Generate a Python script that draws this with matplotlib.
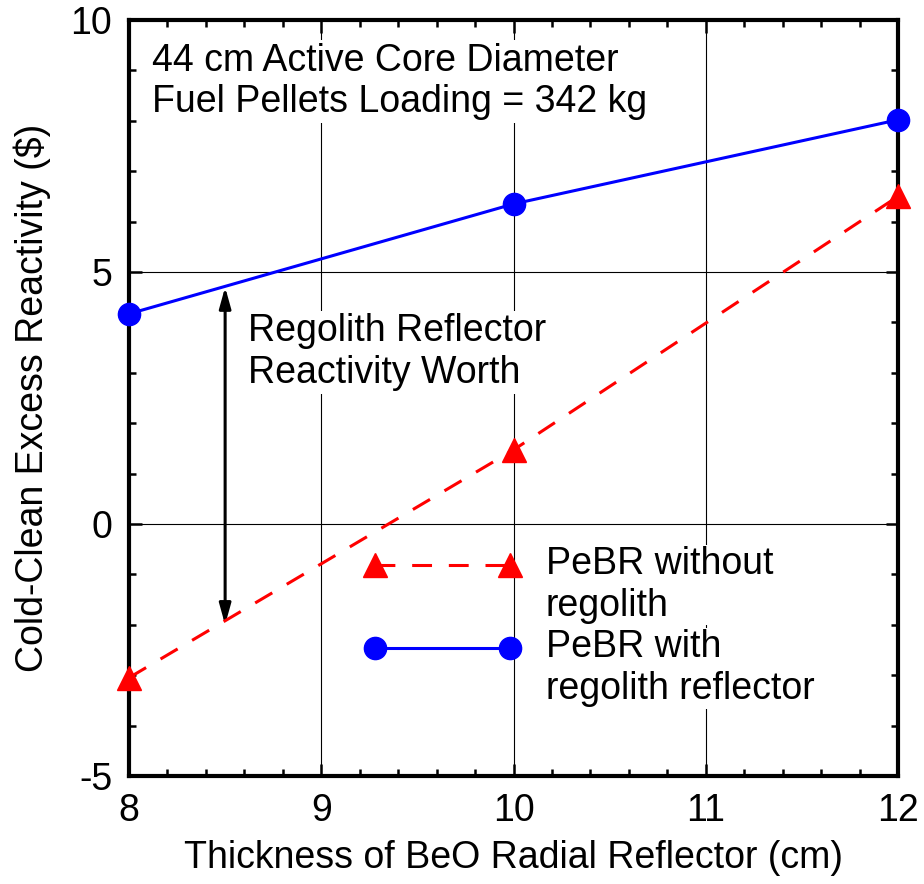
import numpy as np
import matplotlib
matplotlib.use("Agg")
import matplotlib.pyplot as plt
from matplotlib.legend_handler import HandlerLine2D
from matplotlib.ticker import MultipleLocator

# ---- data ----
thickness = [8, 10, 12]
without_regolith = [-3.05, 1.47, 6.5]
with_regolith = [4.17, 6.35, 8.02]
arrow_x = 8.5
arrow_bottom = -2.0
arrow_top = 4.7
xlabel = "Thickness of BeO Radial Reflector (cm)"
ylabel = "Cold-Clean Excess Reactivity ($)"
note_text = "44 cm Active Core Diameter\nFuel Pellets Loading = 342 kg"
worth_text = "Regolith Reflector\nReactivity Worth"
label_without = "PeBR without\nregolith"
label_with = "PeBR with\nregolith reflector"

FS = 27
plt.rcParams['font.family'] = ['Liberation Sans', 'DejaVu Sans']
plt.rcParams['font.size'] = FS

fig = plt.figure(figsize=(9.24, 8.84), dpi=100)
ax = fig.add_axes([129/924, 1-776/884, (898-129)/924, (776-20)/884])

ax.set_xlim(8, 12)
ax.set_ylim(-5, 10)
ax.xaxis.set_major_locator(MultipleLocator(1))
ax.xaxis.set_minor_locator(MultipleLocator(0.2))
ax.yaxis.set_major_locator(MultipleLocator(5))
ax.yaxis.set_minor_locator(MultipleLocator(1))
ax.grid(True, which='major', color='black', lw=0.8, zorder=0)
ax.set_axisbelow(True)
ax.tick_params(which='both', direction='in', top=True, right=True, width=1.8,
               labelsize=FS, pad=12)
ax.tick_params(which='major', length=9)
ax.tick_params(which='minor', length=5)
for s in ax.spines.values():
    s.set_linewidth(3)
    s.set_zorder(5)
ax.yaxis.set_major_formatter(matplotlib.ticker.FuncFormatter(lambda v, p: f"{v:g}"))

red, = ax.plot(thickness, without_regolith, color='red', lw=2.2, ls=(0, (6.5, 5.5)),
               marker='^', ms=17, clip_on=False, zorder=6)
blue, = ax.plot(thickness, with_regolith, color='blue', lw=2.2, ls='-',
                marker='o', ms=16, clip_on=False, zorder=6)

ax.annotate('', xy=(arrow_x, arrow_top), xytext=(arrow_x, arrow_bottom),
            arrowprops=dict(arrowstyle='<|-|>,head_length=0.9,head_width=0.25',
                            mutation_scale=14, lw=2.2, color='black',
                            shrinkA=0, shrinkB=0), zorder=4)

bb = dict(facecolor='white', edgecolor='none', pad=2)
ax.text(0.03, 0.97, note_text, transform=ax.transAxes, ha='left', va='top',
        fontsize=FS, linespacing=1.2, bbox=bb, zorder=3)
ax.text(0.155, 0.612, worth_text, transform=ax.transAxes, ha='left', va='top',
        fontsize=FS, linespacing=1.2, bbox=bb, zorder=3)


class UpHandler(HandlerLine2D):
    def __init__(self, shift, **kw):
        super().__init__(**kw)
        self.shift = shift

    def create_artists(self, legend, orig_handle, xdescent, ydescent, width,
                       height, fontsize, trans):
        arts = super().create_artists(legend, orig_handle, xdescent, ydescent,
                                      width, height, fontsize, trans)
        for a in arts:
            a.set_ydata(np.asarray(a.get_ydata()) + self.shift * fontsize)
        return arts


leg = ax.legend([red, blue], [label_without, label_with], loc='upper left',
                bbox_to_anchor=(0.32, 0.304), frameon=False, numpoints=2,
                handlelength=3.6, handletextpad=0.95, labelspacing=0.15,
                borderpad=0, borderaxespad=0, fontsize=FS,
                handler_map={red: UpHandler(0.55, marker_pad=0),
                             blue: UpHandler(0.55, marker_pad=0)})
for t in leg.get_texts():
    t.set_linespacing(1.2)
    t.set_bbox(dict(facecolor='white', edgecolor='none', pad=1))
leg.set_zorder(7)

ax.set_xlabel(xlabel, fontsize=FS, labelpad=8)
ax.set_ylabel(ylabel, fontsize=FS, labelpad=14)

fig.savefig('out.png', dpi=100)
